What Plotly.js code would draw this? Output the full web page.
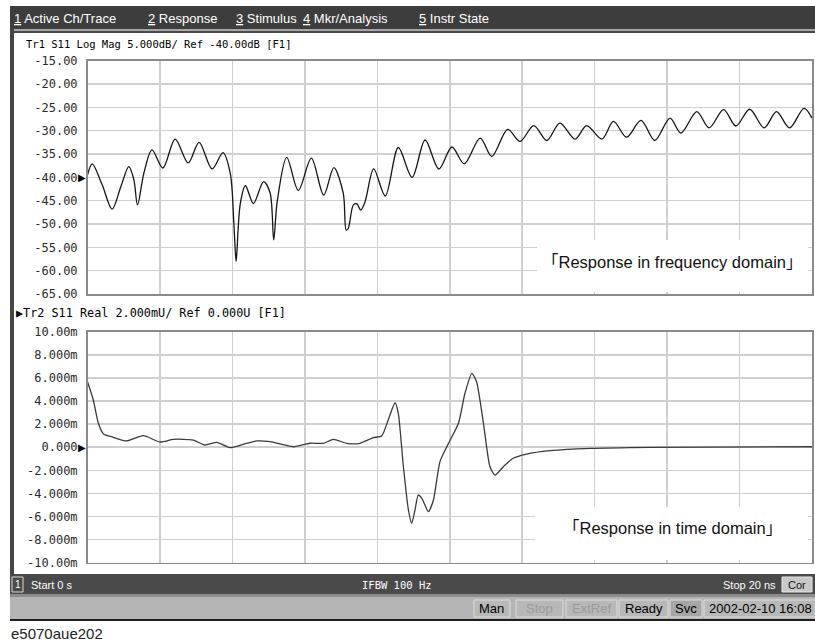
<!DOCTYPE html>
<html><head><meta charset="utf-8">
<script src="https://cdn.plot.ly/plotly-3.0.1.min.js"></script>
<style>html,body{margin:0;padding:0;background:#fff;}#chart{width:815px;height:641px;}</style>
</head><body><div id="chart"></div>
<script>
// ---- Trace 1: S11 Log Mag (frequency domain), x in grid divisions ----
const freqDiv = [0,0.065,0.2,0.34,0.46,0.57,0.64,0.69,0.78,0.89,
  1.04,1.21,1.39,1.54,1.72,1.87,1.97,2.02,2.05,2.06,
  2.11,2.18,2.29,2.43,2.52,2.57,2.62,2.75,2.91,3.09,
  3.26,3.40,3.53,3.57,3.60,3.67,3.72,3.77,3.83,3.95,
  4.11,4.29,4.48,4.66,4.85,5.03,5.20,5.42,5.58,5.80,
  5.97,6.16,6.34,6.52,6.73,6.89,7.10,7.26,7.44,7.64,
  7.83,8.04,8.19,8.41,8.58,8.78,8.95,9.14,9.34,9.51,
  9.69,9.89,10.0];
const logMagDb = [-39.5,-37.1,-41.5,-46.8,-42.0,-37.7,-40.5,-45.9,-39.0,-34.1,
  -38.0,-31.8,-36.9,-32.5,-38.2,-34.7,-39.1,-49.8,-58.0,-56.5,
  -45.5,-41.8,-45.6,-40.9,-43.3,-53.4,-45.0,-35.7,-42.8,-35.9,
  -43.8,-37.9,-43.4,-51.3,-50.9,-45.9,-45.7,-47.0,-45.3,-38.2,
  -44.0,-33.6,-40.0,-32.0,-38.2,-33.5,-37.1,-31.6,-35.5,-29.7,
  -32.3,-28.9,-32.1,-28.4,-31.8,-28.9,-31.8,-28.0,-31.4,-27.8,
  -32.1,-27.3,-30.5,-25.9,-29.4,-25.5,-29.0,-25.4,-29.4,-25.9,
  -29.4,-25.2,-27.3];

// ---- Trace 2: S11 Real (time domain), time in ns, value in mU ----
const timeNs = [0,0.16,0.30,0.44,0.71,1.08,1.54,2.0,2.37,2.92,
  3.24,3.57,3.93,4.30,4.67,5.04,5.68,6.14,6.51,6.79,
  7.15,7.52,7.89,8.12,8.30,8.49,8.58,8.72,8.86,8.95,
  9.04,9.13,9.23,9.41,9.55,9.73,9.96,10.24,10.42,10.61,
  10.74,10.93,11.11,11.25,11.48,11.75,12.12,12.77,13.87,15.53,
  20.0];
const realMU = [5.67,4.09,2.07,1.14,0.86,0.54,1.0,0.45,0.68,0.62,
  0.19,0.42,-0.04,0.25,0.54,0.48,0.04,0.34,0.34,0.68,
  0.34,0.34,0.82,0.97,2.35,3.85,2.93,-1.69,-5.44,-6.59,
  -5.44,-4.14,-4.43,-5.58,-4.57,-1.25,0.3,2.07,4.67,6.40,
  5.67,2.07,-1.69,-2.41,-1.69,-0.96,-0.59,-0.30,-0.10,-0.01,
  0.04];

// ---- Tick labels ----
const dbTicks = [-65,-60,-55,-50,-45,-40,-35,-30,-25,-20,-15];
const dbTickText = ['-65.00','-60.00','-55.00','-50.00','-45.00','-40.00','-35.00','-30.00','-25.00','-20.00','-15.00'];
const realTicks = [-10,-8,-6,-4,-2,0,2,4,6,8,10];
const realTickText = ['-10.00m','-8.000m','-6.000m','-4.000m','-2.000m','0.000','2.000m','4.000m','6.000m','8.000m','10.00m'];

// ---- Texts ----
const menuNums = ['1','2','3','4','5'];
const menuItems = ['Active Ch/Trace','Response','Stimulus','Mkr/Analysis','Instr State'];
const tr1Label = 'Tr1 S11 Log Mag 5.000dB/ Ref -40.00dB [F1]';
const tr2Label = '\u25B6Tr2 S11 Real 2.000mU/ Ref 0.000U [F1]';
const freqNote = '\u300CResponse in frequency domain\u300D';
const timeNote = '\u300CResponse in time domain\u300D';
const statusItems = ['Man','Stop','ExtRef','Ready','Svc','2002-02-10 16:08'];
const figId = 'e5070aue202';

const W = 815, H = 641;
const px = x => x / W;
const py = y => 1 - y / H;

const X0 = 87.5, X1 = 812;
const gridCol = '#cfcfcf';

const traces = [
  {x: freqDiv, y: logMagDb, xaxis: 'x', yaxis: 'y', mode: 'lines',
   line: {color: '#151515', width: 1.3, shape: 'spline', smoothing: 0.9}, hoverinfo: 'skip'},
  {x: timeNs, y: realMU, xaxis: 'x2', yaxis: 'y2', mode: 'lines',
   line: {color: '#3a3a3a', width: 1.3, shape: 'spline', smoothing: 0.6}, hoverinfo: 'skip'}
];

const axX = (range, dtick) => ({
  domain: [px(X0), px(X1)], range: range, dtick: dtick, tick0: 0,
  showticklabels: false, ticks: '', showgrid: true, gridcolor: gridCol, gridwidth: 1.5,
  zeroline: false, showline: true, linecolor: '#8a8a8a', linewidth: 1.5, mirror: true, fixedrange: true
});
const axY = (domain, range, vals, text) => ({
  domain: domain, range: range, tickmode: 'array', tickvals: vals, ticktext: text,
  ticks: '', ticklabelstandoff: 6, showgrid: true, gridcolor: gridCol, gridwidth: 1.5,
  zeroline: false, showline: true, linecolor: '#8a8a8a', linewidth: 1.5, mirror: true,
  tickfont: {family: 'DejaVu Sans Mono', size: 12, color: '#2a2a2a'}, fixedrange: true
});

const shapes = [];
const rect = (x0, y0, x1, y1, fill, line) => shapes.push({
  type: 'rect', xref: 'paper', yref: 'paper', x0: px(x0), x1: px(x1), y0: py(y1), y1: py(y0),
  fillcolor: fill, line: line || {width: 0}, layer: 'above'
});
// top menu bar
rect(10, 6, 815, 29, '#3d3d3d');
rect(10, 29, 815, 31, '#a8a8a8');
rect(10, 31, 815, 33, '#4a4a4a');
// left frame strip
rect(10, 29, 14, 596, '#454545');
// white boxes behind notes
rect(537, 240, 808, 292, '#ffffff');
rect(535, 507, 808, 560, '#ffffff');
// bottom channel bar
rect(10, 574, 815, 594, '#4a4a4a');
rect(12, 577, 23, 592, '#4a4a4a', {color: '#d8d8d8', width: 1});
rect(782, 577, 812, 592, '#c8c8c8', {color: '#e8e8e8', width: 1});
// status bar
rect(10, 594, 815, 597, '#8c8c8c');
rect(10, 597, 815, 619, '#b4b4b4');
rect(10, 619, 815, 621, '#1e1e1e');
const boxes = [[474, 510], [516, 563], [566, 617], [619, 668], [670, 702], [704, 816]];
boxes.forEach((b, i) => rect(b[0], 600, b[1], 617, i === 4 ? '#a6a6a6' : '#b8b8b8', {color: '#dedede', width: 1}));

const ann = [];
const txt = (x, y, text, opt) => ann.push(Object.assign({
  xref: 'paper', yref: 'paper', x: px(x), y: py(y), text: text, showarrow: false,
  xanchor: 'left', yanchor: 'middle', font: {family: 'Liberation Sans', size: 12, color: '#000'}
}, opt || {}));

const menuX = [12, 146, 234, 301, 417];
menuItems.forEach((m, i) => txt(menuX[i], 18,
  '<span style="text-decoration:underline">' + menuNums[i] + '</span> ' + m,
  {font: {family: 'Liberation Sans Narrow, Liberation Sans', size: 13, color: '#ffffff'}}));

txt(24, 44, tr1Label, {font: {family: 'DejaVu Sans Mono', size: 10.5, color: '#000'}});
txt(14, 313, tr2Label, {font: {family: 'DejaVu Sans Mono', size: 11.8, color: '#000'}});

// reference level markers
ann.push({xref: 'paper', yref: 'y', x: px(X0) + 0.0005, y: -40, text: '\u25B6', showarrow: false,
  xanchor: 'right', yanchor: 'middle', font: {family: 'DejaVu Sans', size: 10, color: '#000'}});
ann.push({xref: 'paper', yref: 'y2', x: px(X0) + 0.0005, y: 0, text: '\u25B6', showarrow: false,
  xanchor: 'right', yanchor: 'middle', font: {family: 'DejaVu Sans', size: 10, color: '#000'}});

txt(672, 262, freqNote, {xanchor: 'center', font: {family: 'Liberation Sans, Noto Sans CJK JP', size: 16.5, color: '#111'}});
txt(672, 528, timeNote, {xanchor: 'center', font: {family: 'Liberation Sans, Noto Sans CJK JP', size: 16.5, color: '#111'}});

// channel bar
txt(17.5, 584.5, '1', {xanchor: 'center', font: {family: 'Liberation Sans', size: 10, color: '#fff'}});
txt(29, 584.5, 'Start 0 s', {font: {family: 'Liberation Sans Narrow, Liberation Sans', size: 11, color: '#fff'}});
txt(397, 584.5, 'IFBW 100 Hz', {xanchor: 'center', font: {family: 'DejaVu Sans Mono', size: 10.5, color: '#fff'}});
txt(778, 584.5, 'Stop 20 ns', {xanchor: 'right', font: {family: 'Liberation Sans Narrow, Liberation Sans', size: 11, color: '#fff'}});
txt(797, 584.5, 'Cor', {xanchor: 'center', font: {family: 'Liberation Sans', size: 11, color: '#111'}});

// status bar texts
const statusCol = ['#000', '#9a9a9a', '#9a9a9a', '#000', '#000', '#000'];
statusItems.forEach((s, i) => {
  const b = boxes[i];
  if (i === 5) txt(707, 608.5, s, {font: {family: 'Liberation Sans', size: 13, color: statusCol[i]}});
  else txt((b[0] + b[1]) / 2, 608.5, s, {xanchor: 'center', font: {family: 'Liberation Sans', size: 13, color: statusCol[i]}});
});

txt(9, 633, figId, {font: {family: 'Liberation Sans', size: 15, color: '#222'}});

const layout = {
  width: W, height: H, margin: {l: 0, r: 0, t: 0, b: 0},
  paper_bgcolor: '#ffffff', plot_bgcolor: 'rgba(0,0,0,0)', showlegend: false,
  xaxis: axX([0, 10], 1),
  yaxis: axY([py(294), py(60.7)], [-65, -15], dbTicks, dbTickText),
  xaxis2: Object.assign(axX([0, 20], 2), {anchor: 'y2'}),
  yaxis2: Object.assign(axY([py(562.7), py(331.7)], [-10, 10], realTicks, realTickText), {anchor: 'x2'}),
  shapes: shapes, annotations: ann
};
layout.yaxis.anchor = 'x';

Plotly.newPlot('chart', traces, layout, {staticPlot: true, displayModeBar: false});
</script></body></html>
